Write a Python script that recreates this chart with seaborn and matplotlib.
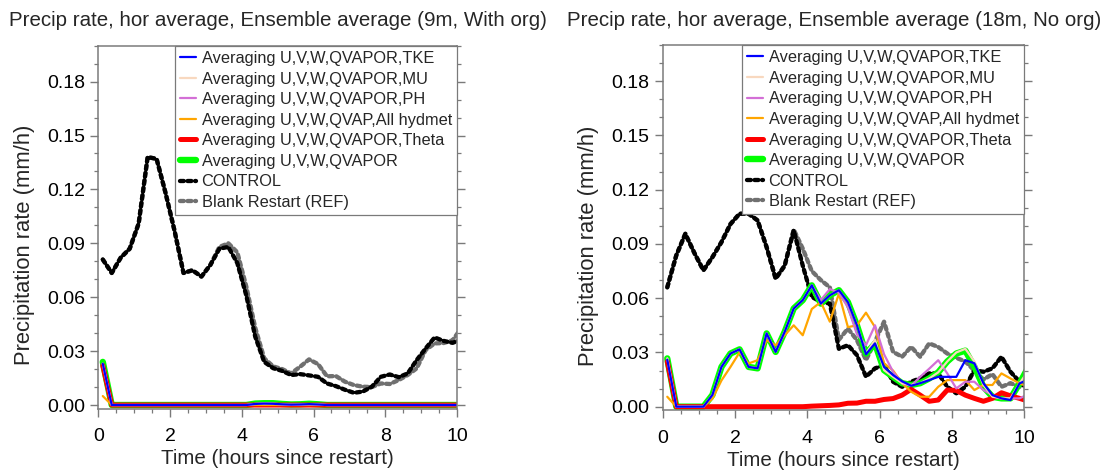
import numpy as np
import pandas as pd
import matplotlib
matplotlib.use("Agg")
import matplotlib.pyplot as plt
import seaborn as sns
from matplotlib.ticker import MultipleLocator, FormatStrFormatter

# ---------------- data ----------------
times = np.arange(41) * 0.25 + 0.125   # hours since restart (15-min output)

titles = ["Precip rate, hor average, Ensemble average (9m, With org)",
          "Precip rate, hor average, Ensemble average (18m, No org)"]
legend_labels = ["Averaging U,V,W,QVAPOR,TKE", "Averaging U,V,W,QVAPOR,MU",
                 "Averaging U,V,W,QVAPOR,PH", "Averaging U,V,W,QVAP,All hydmet",
                 "Averaging U,V,W,QVAPOR,Theta", "Averaging U,V,W,QVAPOR",
                 "CONTROL", "Blank Restart (REF)"]
y_ticks = [0.00, 0.03, 0.06, 0.09, 0.12, 0.15, 0.18]
x_ticks = [0, 2, 4, 6, 8, 10]

# left panel (9m, With org)
left_tke = [0.023, 0.0, 0.0, 0.0, 0.0, 0.0, 0.0, 0.0, 0.0, 0.0, 0.0, 0.0, 0.0, 0.0, 0.0, 0.0, 0.0,
            0.0006, 0.0008, 0.0007, 0.0004, 0.0002, 0.0003, 0.0005, 0.0003, 0.0, 0.0, 0.0, 0.0, 0.0,
            0.0, 0.0, 0.0, 0.0, 0.0, 0.0, 0.0, 0.0, 0.0, 0.0, 0.0]
left_mu = [0.023, 0.0, 0.0, 0.0, 0.0, 0.0, 0.0, 0.0, 0.0, 0.0, 0.0, 0.0, 0.0, 0.0, 0.0, 0.0, 0.0,
           0.0006, 0.0008, 0.0007, 0.0004, 0.0002, 0.0003, 0.0005, 0.0003, 0.0, 0.0, 0.0, 0.0, 0.0,
           0.0, 0.0, 0.0, 0.0, 0.0, 0.0, 0.0, 0.0, 0.0, 0.0, 0.0]
left_ph = [0.023, 0.0, 0.0, 0.0, 0.0, 0.0, 0.0, 0.0, 0.0, 0.0, 0.0, 0.0, 0.0, 0.0, 0.0, 0.0, 0.0,
           0.0006, 0.0008, 0.0007, 0.0004, 0.0002, 0.0003, 0.0005, 0.0003, 0.0, 0.0, 0.0, 0.0, 0.0,
           0.0, 0.0, 0.0, 0.0, 0.0, 0.0, 0.0, 0.0, 0.0, 0.0, 0.0]
left_hydmet = [0.005, 0.0, 0.0, 0.0, 0.0, 0.0, 0.0, 0.0, 0.0, 0.0, 0.0, 0.0, 0.0, 0.0, 0.0, 0.0, 0.0,
               0.0, 0.0, 0.0, 0.0, 0.0, 0.0, 0.0, 0.0, 0.0, 0.0, 0.0, 0.0, 0.0,
               0.0, 0.0, 0.0, 0.0, 0.0, 0.0, 0.0, 0.0, 0.0, 0.0, 0.0]
left_theta = [0.022, 0.0, 0.0, 0.0, 0.0, 0.0, 0.0, 0.0, 0.0, 0.0, 0.0, 0.0, 0.0, 0.0, 0.0, 0.0, 0.0,
              0.0, 0.0, 0.0, 0.0, 0.0, 0.0, 0.0, 0.0, 0.0, 0.0, 0.0, 0.0, 0.0,
              0.0, 0.0, 0.0, 0.0, 0.0, 0.0, 0.0, 0.0, 0.0, 0.0, 0.0]
left_qvapor = [0.024, 0.0, 0.0, 0.0, 0.0, 0.0, 0.0, 0.0, 0.0, 0.0, 0.0, 0.0, 0.0, 0.0, 0.0, 0.0, 0.0,
               0.0008, 0.001, 0.001, 0.0006, 0.0003, 0.0004, 0.0007, 0.0004, 0.0, 0.0, 0.0, 0.0, 0.0,
               0.0, 0.0, 0.0, 0.0, 0.0, 0.0, 0.0, 0.0, 0.0, 0.0, 0.0]
left_control = [0.081, 0.0735, 0.082, 0.087, 0.101, 0.138, 0.137, 0.118, 0.097, 0.0735, 0.075,
                0.0715, 0.078, 0.087, 0.088, 0.079, 0.061, 0.038, 0.024, 0.0205, 0.019, 0.0167,
                0.0172, 0.0165, 0.0157, 0.012, 0.0105, 0.0085, 0.0068, 0.0075, 0.0102, 0.0157,
                0.017, 0.0155, 0.0176, 0.025, 0.0315, 0.0376, 0.0357, 0.0346, 0.0365]
left_ref = [0.081, 0.0735, 0.082, 0.087, 0.101, 0.138, 0.137, 0.118, 0.097, 0.0735, 0.075,
            0.0715, 0.078, 0.088, 0.090, 0.085, 0.066, 0.043, 0.026, 0.0215, 0.020, 0.0176,
            0.0213, 0.0254, 0.0228, 0.016, 0.0161, 0.013, 0.0111, 0.0102, 0.0100, 0.012,
            0.0117, 0.0139, 0.0167, 0.0204, 0.0306, 0.0343, 0.0345, 0.036, 0.043]

# right panel (18m, No org)
right_tke = [0.026, 0.0, 0.0, 0.0, 0.0, 0.0065, 0.022, 0.0294, 0.0317, 0.022, 0.0212, 0.0405,
             0.0303, 0.0414, 0.0543, 0.0589, 0.0671, 0.057, 0.0616, 0.0644, 0.0578, 0.045, 0.029,
             0.035, 0.022, 0.0175, 0.014, 0.0116, 0.013, 0.0147, 0.0165, 0.0165, 0.0165, 0.0257,
             0.024, 0.013, 0.0064, 0.0046, 0.0037, 0.0129, 0.015]
right_mu = [0.0267, 0.0, 0.0, 0.0, 0.0, 0.0065, 0.022, 0.0294, 0.0317, 0.022, 0.0212, 0.0405,
            0.0303, 0.0414, 0.0543, 0.0589, 0.0671, 0.057, 0.0616, 0.0644, 0.0578, 0.045, 0.0294,
            0.037, 0.0202, 0.0165, 0.013, 0.012, 0.013, 0.0156, 0.019, 0.025, 0.030, 0.032,
            0.025, 0.012, 0.0055, 0.0046, 0.0046, 0.0129, 0.020]
right_ph = [0.0267, 0.0, 0.0, 0.0, 0.0, 0.0065, 0.022, 0.0294, 0.0317, 0.022, 0.0212, 0.0405,
            0.0303, 0.0414, 0.0543, 0.0589, 0.0671, 0.059, 0.065, 0.063, 0.055, 0.040, 0.034,
            0.045, 0.029, 0.0193, 0.0129, 0.0116, 0.0165, 0.021, 0.0257, 0.0184, 0.0101, 0.0138,
            0.0138, 0.0092, 0.0064, 0.0046, 0.0046, 0.0046, 0.007]
right_hydmet = [0.0055, 0.0, 0.0, 0.0, 0.0, 0.0044, 0.0145, 0.022, 0.030, 0.0239, 0.0257, 0.0368,
                0.034, 0.0395, 0.045, 0.0395, 0.054, 0.0579, 0.047, 0.0625, 0.044, 0.045, 0.052,
                0.044, 0.024, 0.020, 0.013, 0.0083, 0.0055, 0.0055, 0.011, 0.0147, 0.0147, 0.0147,
                0.0092, 0.012, 0.012, 0.0184, 0.0156, 0.0129, 0.011]
right_theta = [0.025, 0.0, 0.0, 0.0, 0.0, 0.0, 0.0, 0.0, 0.0, 0.0, 0.0, 0.0, 0.0, 0.0, 0.0, 0.0,
               0.0003, 0.0005, 0.0007, 0.001, 0.0019, 0.002, 0.003, 0.003, 0.004, 0.0045, 0.0064,
               0.0096, 0.0064, 0.003, 0.0037, 0.0092, 0.009, 0.0064, 0.0046, 0.003, 0.0046, 0.0077,
               0.006, 0.0046, 0.003]
right_qvapor = [0.0267, 0.0, 0.0, 0.0, 0.0, 0.0065, 0.022, 0.0294, 0.0317, 0.022, 0.0212, 0.0405,
                0.0303, 0.0414, 0.0543, 0.0589, 0.0671, 0.057, 0.0616, 0.0644, 0.0578, 0.045, 0.0294,
                0.0349, 0.0202, 0.0165, 0.013, 0.012, 0.013, 0.0156, 0.019, 0.025, 0.0294, 0.031,
                0.0221, 0.011, 0.0055, 0.0046, 0.0046, 0.0129, 0.022]
right_control = [0.066, 0.0837, 0.0956, 0.085, 0.0754, 0.0827, 0.091, 0.101, 0.1067, 0.1067, 0.103,
                 0.0882, 0.0708, 0.078, 0.0975, 0.078, 0.0607, 0.058, 0.057, 0.032, 0.034, 0.0285,
                 0.0166, 0.0212, 0.023, 0.0138, 0.011, 0.0138, 0.0157, 0.0184, 0.0184, 0.011, 0.0074,
                 0.011, 0.0202, 0.0193, 0.0212, 0.0276, 0.0193, 0.0138, 0.009]
right_ref = [0.066, 0.0837, 0.0956, 0.085, 0.0754, 0.0827, 0.091, 0.101, 0.1067, 0.1067, 0.103,
             0.0882, 0.0708, 0.078, 0.098, 0.0874, 0.075, 0.070, 0.066, 0.037, 0.0432, 0.0368,
             0.0258, 0.036, 0.047, 0.0303, 0.0276, 0.0331, 0.0276, 0.035, 0.033, 0.0294, 0.027,
             0.025, 0.020, 0.015, 0.018, 0.011, 0.013, 0.011, 0.015]

# ---------------- styles ----------------
colors = ["#0000ff", "#f8d8bf", "#d36fd6", "#ffa500", "#ff0000", "#00ff00", "#000000", "#707070"]
widths = [1.6, 1.6, 1.6, 1.6, 3.6, 4.6, 3.1, 3.1]
dotted = (0, (0.9, 0.85))

sns.set_style("ticks")
plt.rcParams["font.family"] = ["Liberation Sans", "DejaVu Sans"]

fig = plt.figure(figsize=(11.12, 4.70), dpi=100)
ax_l = fig.add_axes([0.0884, 0.1306, 0.3226, 0.7722])
ax_r = fig.add_axes([0.5960, 0.1270, 0.3249, 0.7773])

panels = [
    (ax_l, titles[0], 0.5, [left_tke, left_mu, left_ph, left_hydmet, left_theta, left_qvapor,
                            left_control, left_ref]),
    (ax_r, titles[1], 0.475, [right_tke, right_mu, right_ph, right_hydmet, right_theta,
                              right_qvapor, right_control, right_ref]),
]

spine_col = "#7a7a7a"
for ax, title, tx, series in panels:
    lines = {}
    # draw in reverse legend order (REF first, TKE on top)
    for i in reversed(range(len(series))):
        df = pd.DataFrame({"time": times, "rate": series[i]})
        kw = dict(color=colors[i], linewidth=widths[i], label=legend_labels[i])
        if i >= 6:
            kw.update(linestyle=dotted, dash_capstyle="round")
        sns.lineplot(data=df, x="time", y="rate", ax=ax, legend=False, **kw)
        lines[i] = ax.get_lines()[-1]
    ax.set_xlim(0, 10)
    ax.set_ylim(-0.002, 0.2)
    ax.xaxis.set_major_locator(plt.FixedLocator(x_ticks))
    ax.xaxis.set_minor_locator(MultipleLocator(0.5))
    ax.yaxis.set_major_locator(plt.FixedLocator(y_ticks))
    ax.yaxis.set_minor_locator(MultipleLocator(0.01))
    ax.yaxis.set_major_formatter(FormatStrFormatter("%.2f"))
    ax.tick_params(axis="both", which="both", direction="out", colors=spine_col,
                   labelcolor="black", labelsize=14, right=True, top=False)
    ax.tick_params(which="major", length=6, width=1.0)
    ax.tick_params(which="minor", length=3, width=0.9)
    ax.tick_params(axis="x", pad=8)
    for s in ax.spines.values():
        s.set_color(spine_col)
        s.set_linewidth(1.1)
    ax.set_xlabel("Time (hours since restart)", fontsize=14.8, labelpad=3)
    ax.set_ylabel("Precipitation rate (mm/h)", fontsize=15.8)
    ax.yaxis.set_label_coords(-0.176, 0.45)
    ax.set_title(title, fontsize=14.8, pad=14, x=tx)
    leg = ax.legend([lines[i] for i in range(8)], legend_labels, loc="upper right",
                    bbox_to_anchor=(1.0, 1.0), borderaxespad=0.0, fontsize=11.8,
                    frameon=True, fancybox=False, framealpha=1.0, edgecolor=spine_col,
                    handlelength=0.95, handletextpad=0.35, labelspacing=0.34,
                    borderpad=0.32)
    leg.get_frame().set_linewidth(0.9)

fig.savefig("out.png", dpi=100)
